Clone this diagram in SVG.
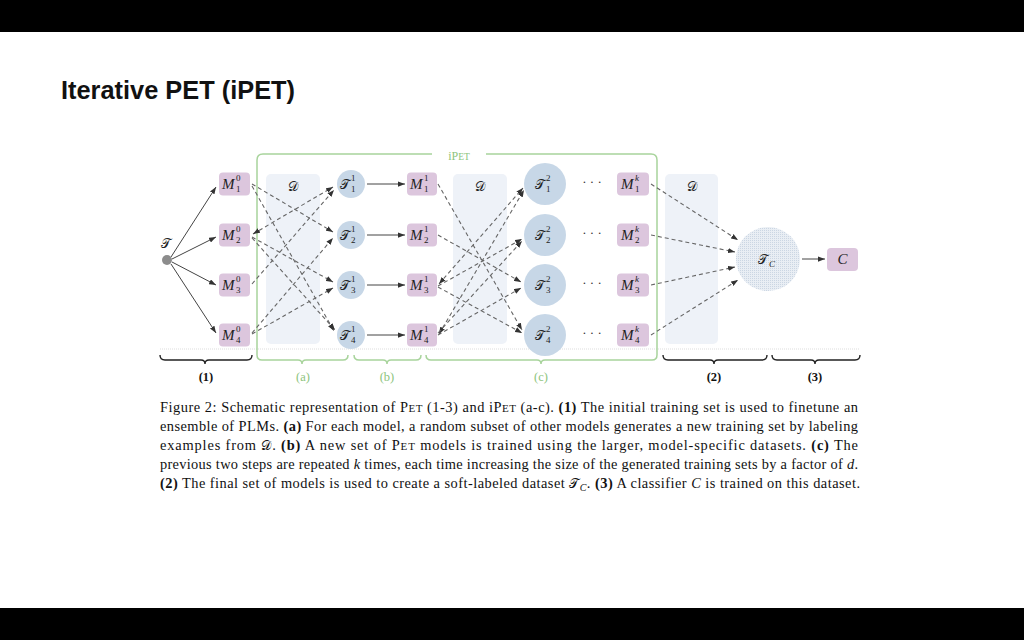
<svg xmlns="http://www.w3.org/2000/svg" width="1024" height="640" viewBox="0 0 1024 640">
<defs>
<style>
.bar{fill:#000}
.m{fill:#dcc6dd}
.t{fill:#c7d7e7}
.d{fill:#eef2f8}
.mt{font-family:"Liberation Serif",serif;font-style:italic;font-size:15px;fill:#222}
.sc{font-family:"Liberation Serif",serif;font-size:9px;fill:#222}
.sci{font-family:"Liberation Serif",serif;font-style:italic;font-size:9px;fill:#222}
.cal{font-family:"DejaVu Serif","DejaVu Sans",serif;font-style:normal;font-size:13px;fill:#222}
.sol{stroke:#444;stroke-width:1;fill:none}
.dsh{stroke:#666;stroke-width:1.1;fill:none;stroke-dasharray:4 3}
.cap{font-family:"Liberation Serif",serif;font-size:14.4px;fill:#111}
.br{fill:none;stroke:#222;stroke-width:1.4}
.gbr{fill:none;stroke:#a8d49c;stroke-width:1.5}
.bl{font-family:"Liberation Serif",serif;font-size:12.5px;text-anchor:middle}
.dots{font-family:"Liberation Serif",serif;font-size:13px;fill:#333;text-anchor:middle}
</style>
<marker id="ah" viewBox="0 0 8 6" refX="8" refY="3" markerWidth="7" markerHeight="5.5" markerUnits="userSpaceOnUse" orient="auto-start-reverse"><path d="M0,0 L8,3 L0,6 z" fill="#333"/></marker>
<pattern id="dt" width="2" height="2" patternUnits="userSpaceOnUse"><rect width="2" height="2" fill="#e9eef4"/><rect width="1" height="1" fill="#cbd6e3"/></pattern>
</defs>
<rect width="1024" height="640" fill="#fff"/>
<rect class="bar" x="0" y="0" width="1024" height="32"/>
<rect class="bar" x="0" y="608" width="1024" height="32"/>
<text x="61" y="99" font-family="Liberation Sans, Arial, sans-serif" font-weight="bold" font-size="25" fill="#111" textLength="234" lengthAdjust="spacingAndGlyphs">Iterative PET (iPET)</text>

<g id="panels">
<rect class="d" x="266" y="174" width="54" height="170" rx="5"/>
<rect class="d" x="453" y="174" width="54" height="170" rx="5"/>
<rect class="d" x="665" y="174" width="53" height="170" rx="5"/>
<text class="cal" x="293" y="191" text-anchor="middle">𝒟</text>
<text class="cal" x="480" y="191" text-anchor="middle">𝒟</text>
<text class="cal" x="692" y="191" text-anchor="middle">𝒟</text>
</g>

<g id="frame">
<line x1="160" y1="349" x2="860" y2="349" stroke="#ddd" stroke-width="1" stroke-dasharray="1 1"/>
<path class="gbr" d="M257,355 L257,160 Q257,154 263,154 L432,154 M486,154 L651,154 Q657,154 657,160 L657,355"/>
<text x="459" y="160" text-anchor="middle" font-family="Liberation Serif, serif" font-size="12" fill="#8cc47c">iP<tspan font-size="9.5">ET</tspan></text>
</g>

<g id="brackets">
<path class="br" d="M160,355 Q160,360 165,360 L201,360 Q205,360 205,364 Q205,360 209,360 L247,360 Q252,360 252,355"/>
<path class="gbr" d="M257,355 Q257,360 262,360 L298,360 Q302,360 302,364 Q302,360 306,360 L343,360 Q348,360 348,355"/>
<path class="gbr" d="M354,355 Q354,360 359,360 L383,360 Q387,360 387,364 Q387,360 391,360 L416,360 Q421,360 421,355"/>
<path class="gbr" d="M426,355 Q426,360 431,360 L537,360 Q541,360 541,364 Q541,360 545,360 L652,360 Q657,360 657,355"/>
<path class="br" d="M663,355 Q663,360 668,360 L710,360 Q714,360 714,364 Q714,360 718,360 L762,360 Q767,360 767,355"/>
<path class="br" d="M772,355 Q772,360 777,360 L811,360 Q815,360 815,364 Q815,360 819,360 L855,360 Q860,360 860,355"/>
<text class="bl" x="206" y="381" font-weight="bold" fill="#111">(1)</text>
<text class="bl" x="303" y="381" fill="#8cc47c">(a)</text>
<text class="bl" x="387" y="381" fill="#8cc47c">(b)</text>
<text class="bl" x="541" y="381" fill="#8cc47c">(c)</text>
<text class="bl" x="714" y="381" font-weight="bold" fill="#111">(2)</text>
<text class="bl" x="815" y="381" font-weight="bold" fill="#111">(3)</text>
</g>

<g id="connectors">
<line class="sol" x1="171" y1="257" x2="216" y2="187" marker-end="url(#ah)"/>
<line class="sol" x1="172" y1="259" x2="216" y2="237" marker-end="url(#ah)"/>
<line class="sol" x1="172" y1="262" x2="216" y2="285" marker-end="url(#ah)"/>
<line class="sol" x1="171" y1="264" x2="216" y2="333" marker-end="url(#ah)"/>
<line class="dsh" x1="252" y1="184" x2="333" y2="232" marker-end="url(#ah)"/>
<line class="dsh" x1="252" y1="186" x2="334" y2="331" marker-end="url(#ah)"/>
<line class="dsh" x1="253" y1="234" x2="333" y2="187" marker-start="url(#ah)" marker-end="url(#ah)"/>
<line class="dsh" x1="252" y1="237" x2="333" y2="282" marker-end="url(#ah)"/>
<line class="dsh" x1="252" y1="238" x2="335" y2="330" marker-end="url(#ah)"/>
<line class="dsh" x1="252" y1="284" x2="334" y2="190" marker-end="url(#ah)"/>
<line class="dsh" x1="252" y1="333" x2="333" y2="238" marker-end="url(#ah)"/>
<line class="dsh" x1="252" y1="334" x2="333" y2="288" marker-end="url(#ah)"/>
<line class="sol" x1="367" y1="184" x2="405" y2="184" marker-end="url(#ah)"/>
<line class="sol" x1="367" y1="235" x2="405" y2="235" marker-end="url(#ah)"/>
<line class="sol" x1="367" y1="285" x2="405" y2="285" marker-end="url(#ah)"/>
<line class="sol" x1="367" y1="335" x2="405" y2="335" marker-end="url(#ah)"/>
<line class="dsh" x1="438" y1="184" x2="522" y2="330" marker-end="url(#ah)"/>
<line class="dsh" x1="438" y1="235" x2="521" y2="282" marker-end="url(#ah)"/>
<line class="dsh" x1="439" y1="284" x2="523" y2="188" marker-start="url(#ah)" marker-end="url(#ah)"/>
<line class="dsh" x1="438" y1="286" x2="522" y2="239" marker-end="url(#ah)"/>
<line class="dsh" x1="438" y1="287" x2="522" y2="333" marker-end="url(#ah)"/>
<line class="dsh" x1="439" y1="334" x2="524" y2="190" marker-start="url(#ah)" marker-end="url(#ah)"/>
<line class="dsh" x1="438" y1="333" x2="522" y2="241" marker-end="url(#ah)"/>
<line class="dsh" x1="438" y1="335" x2="521" y2="288" marker-end="url(#ah)"/>
<line class="dsh" x1="651" y1="184" x2="738" y2="240" marker-end="url(#ah)"/>
<line class="dsh" x1="651" y1="235" x2="735" y2="252" marker-end="url(#ah)"/>
<line class="dsh" x1="651" y1="285" x2="735" y2="267" marker-end="url(#ah)"/>
<line class="dsh" x1="651" y1="335" x2="738" y2="280" marker-end="url(#ah)"/>
<line class="sol" x1="802" y1="259" x2="825" y2="259" marker-end="url(#ah)"/>
</g>

<g id="T0">
<circle cx="167" cy="260" r="5" fill="#8c8c8c"/>
<text class="cal" x="166" y="248" text-anchor="middle">𝒯</text>
</g>

<g id="M0_1"><rect class="m" x="219" y="172.5" width="31" height="23" rx="4"/><text class="mt" x="222" y="189">M</text><text class="sc" x="236" y="181">0</text><text class="sc" x="236" y="192">1</text></g>
<g id="M0_2"><rect class="m" x="219" y="223.5" width="31" height="23" rx="4"/><text class="mt" x="222" y="240">M</text><text class="sc" x="236" y="232">0</text><text class="sc" x="236" y="243">2</text></g>
<g id="M0_3"><rect class="m" x="219" y="273.5" width="31" height="23" rx="4"/><text class="mt" x="222" y="290">M</text><text class="sc" x="236" y="282">0</text><text class="sc" x="236" y="293">3</text></g>
<g id="M0_4"><rect class="m" x="219" y="323.5" width="31" height="23" rx="4"/><text class="mt" x="222" y="340">M</text><text class="sc" x="236" y="332">0</text><text class="sc" x="236" y="343">4</text></g>

<g id="T1_1"><circle class="t" cx="351" cy="184" r="14"/><text class="cal" x="340" y="189">𝒯</text><text class="sc" x="351" y="181">1</text><text class="sc" x="351" y="192">1</text></g>
<g id="T1_2"><circle class="t" cx="351" cy="235" r="14"/><text class="cal" x="340" y="240">𝒯</text><text class="sc" x="351" y="232">1</text><text class="sc" x="351" y="243">2</text></g>
<g id="T1_3"><circle class="t" cx="351" cy="285" r="14"/><text class="cal" x="340" y="290">𝒯</text><text class="sc" x="351" y="282">1</text><text class="sc" x="351" y="293">3</text></g>
<g id="T1_4"><circle class="t" cx="351" cy="335" r="14"/><text class="cal" x="340" y="340">𝒯</text><text class="sc" x="351" y="332">1</text><text class="sc" x="351" y="343">4</text></g>

<g id="M1_1"><rect class="m" x="407" y="172.5" width="30" height="23" rx="4"/><text class="mt" x="410" y="189">M</text><text class="sc" x="424" y="181">1</text><text class="sc" x="424" y="192">1</text></g>
<g id="M1_2"><rect class="m" x="407" y="223.5" width="30" height="23" rx="4"/><text class="mt" x="410" y="240">M</text><text class="sc" x="424" y="232">1</text><text class="sc" x="424" y="243">2</text></g>
<g id="M1_3"><rect class="m" x="407" y="273.5" width="30" height="23" rx="4"/><text class="mt" x="410" y="290">M</text><text class="sc" x="424" y="282">1</text><text class="sc" x="424" y="293">3</text></g>
<g id="M1_4"><rect class="m" x="407" y="323.5" width="30" height="23" rx="4"/><text class="mt" x="410" y="340">M</text><text class="sc" x="424" y="332">1</text><text class="sc" x="424" y="343">4</text></g>

<g id="T2_1"><circle class="t" cx="545" cy="184" r="21"/><text class="cal" x="535" y="189">𝒯</text><text class="sc" x="546" y="181">2</text><text class="sc" x="546" y="192">1</text></g>
<g id="T2_2"><circle class="t" cx="545" cy="235" r="21"/><text class="cal" x="535" y="240">𝒯</text><text class="sc" x="546" y="232">2</text><text class="sc" x="546" y="243">2</text></g>
<g id="T2_3"><circle class="t" cx="545" cy="285" r="21"/><text class="cal" x="535" y="290">𝒯</text><text class="sc" x="546" y="282">2</text><text class="sc" x="546" y="293">3</text></g>
<g id="T2_4"><circle class="t" cx="545" cy="335" r="21"/><text class="cal" x="535" y="340">𝒯</text><text class="sc" x="546" y="332">2</text><text class="sc" x="546" y="343">4</text></g>

<g id="ellipses">
<text class="dots" x="592" y="186">· · ·</text>
<text class="dots" x="592" y="237">· · ·</text>
<text class="dots" x="592" y="287">· · ·</text>
<text class="dots" x="592" y="337">· · ·</text>
</g>

<g id="Mk_1"><rect class="m" x="617" y="172.5" width="32" height="23" rx="4"/><text class="mt" x="621" y="189">M</text><text class="sci" x="635" y="181">k</text><text class="sc" x="635" y="192">1</text></g>
<g id="Mk_2"><rect class="m" x="617" y="223.5" width="32" height="23" rx="4"/><text class="mt" x="621" y="240">M</text><text class="sci" x="635" y="232">k</text><text class="sc" x="635" y="243">2</text></g>
<g id="Mk_3"><rect class="m" x="617" y="273.5" width="32" height="23" rx="4"/><text class="mt" x="621" y="290">M</text><text class="sci" x="635" y="282">k</text><text class="sc" x="635" y="293">3</text></g>
<g id="Mk_4"><rect class="m" x="617" y="323.5" width="32" height="23" rx="4"/><text class="mt" x="621" y="340">M</text><text class="sci" x="635" y="332">k</text><text class="sc" x="635" y="343">4</text></g>

<g id="TC"><circle cx="768" cy="259" r="32" fill="url(#dt)"/><text class="cal" x="758" y="264">𝒯</text><text class="sci" x="769" y="267">C</text></g>
<g id="C"><rect class="m" x="827" y="248" width="31" height="23" rx="4"/><text class="mt" x="842.5" y="264" text-anchor="middle">C</text></g>

<g id="caption" class="cap">
<text x="160" y="412" textLength="698" lengthAdjust="spacing">Figure 2: Schematic representation of P<tspan font-size="11">ET</tspan> (1-3) and iP<tspan font-size="11">ET</tspan> (a-c). <tspan font-weight="bold">(1)</tspan> The initial training set is used to finetune an</text>
<text x="160" y="431" textLength="698" lengthAdjust="spacing">ensemble of PLMs. <tspan font-weight="bold">(a)</tspan> For each model, a random subset of other models generates a new training set by labeling</text>
<text x="160" y="450" textLength="698" lengthAdjust="spacing">examples from <tspan font-family="DejaVu Serif, serif" font-size="13">𝒟</tspan>.  <tspan font-weight="bold">(b)</tspan> A new set of P<tspan font-size="11">ET</tspan> models is trained using the larger, model-specific datasets.  <tspan font-weight="bold">(c)</tspan> The</text>
<text x="160" y="469" textLength="698" lengthAdjust="spacing">previous two steps are repeated <tspan font-style="italic">k</tspan> times, each time increasing the size of the generated training sets by a factor of <tspan font-style="italic">d</tspan>.</text>
<text x="160" y="488" textLength="700" lengthAdjust="spacing"><tspan font-weight="bold">(2)</tspan> The final set of models is used to create a soft-labeled dataset <tspan font-family="DejaVu Serif, serif" font-size="13">𝒯</tspan><tspan font-style="italic" font-size="10" dy="3">C</tspan><tspan dy="-3">. </tspan><tspan font-weight="bold">(3)</tspan> A classifier <tspan font-style="italic">C</tspan> is trained on this dataset.</text>
</g>
</svg>
